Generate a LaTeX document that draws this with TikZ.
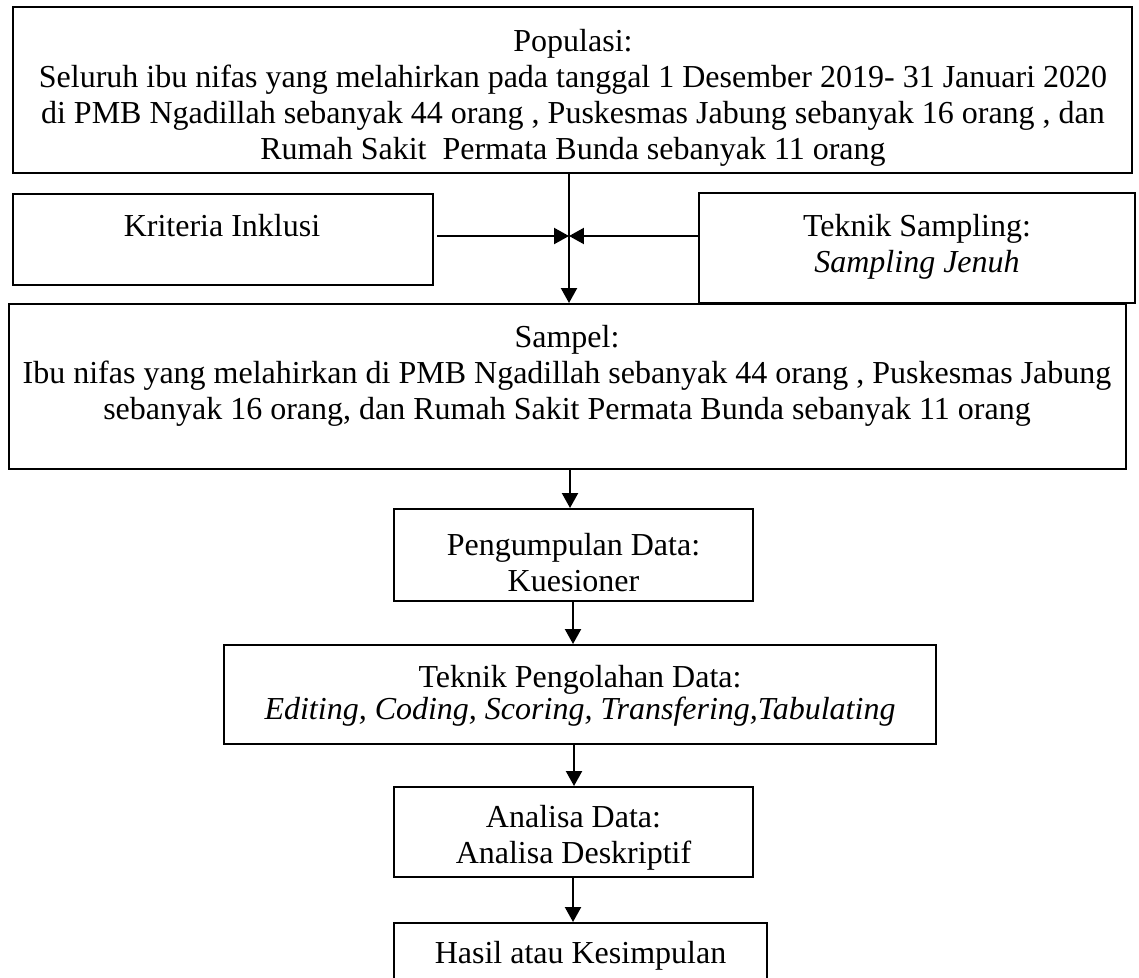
\documentclass[tikz,border=0pt]{standalone}
\usepackage{fontspec}
\setmainfont{Liberation Serif}
\usetikzlibrary{arrows.meta,fit}
\begin{document}
\begin{tikzpicture}[x=0.375pt,y=-0.375pt,
  box/.style={draw,line width=0.75pt,inner sep=0pt},
  txt/.style={align=center,inner sep=0pt,font=\fontsize{12}{13.5}\selectfont},
  arr/.style={line width=0.75pt,-{Triangle[length=5.6pt,width=6pt]}}]
\clip (0,0) rectangle (1139,978);
% boxes
\node[box,fit={(13,7) (1132,173)}] (pop) {};
\node[box,fit={(13,194) (433,285)}] (kri) {};
\node[box,fit={(699,193) (1135,303)}] (tsa) {};
\node[box,fit={(9,304) (1126,469)}] (sam) {};
\node[box,fit={(394,509) (753,601)}] (pen) {};
\node[box,fit={(224,645) (936,744)}] (tpd) {};
\node[box,fit={(394,787) (753,877)}] (ana) {};
\node[box,fit={(394,923) (767,1000)}] (has) {};
% texts
\node[txt] (popt) at (573,98) {Populasi:\\Seluruh ibu nifas yang melahirkan pada tanggal 1 Desember 2019- 31 Januari 2020\\di PMB Ngadillah sebanyak 44 orang , Puskesmas Jabung sebanyak 16 orang , dan\\Rumah Sakit~ Permata Bunda sebanyak 11 orang};
\node[txt,anchor=base] (krit) at (222,236) {Kriteria Inklusi};
\node[txt] (tsat) at (917,246.5) {Teknik Sampling:\\\textit{Sampling Jenuh}};
\node[txt] (samt) at (567,375.5) {Sampel:\\Ibu nifas yang melahirkan di PMB Ngadillah sebanyak 44 orang , Puskesmas Jabung\\sebanyak 16 orang, dan Rumah Sakit Permata Bunda sebanyak 11 orang};
\node[txt] (pent) at (573.5,563) {Pengumpulan Data:\\Kuesioner};
\node[txt] (tpdt) at (580,695.6) {Teknik Pengolahan Data:\\[-1.5pt]\textit{Editing, Coding, Scoring, Transfering,Tabulating}};
\node[txt] (anat) at (573.5,837.6) {Analisa Data:\\Analisa Deskriptif};
\node[txt,anchor=base] (hast) at (580.5,963) {Hasil atau Kesimpulan};
% connectors
\coordinate (meet) at (569,236);
\draw[arr] (569,0 |- pop.south) -- (569,0 |- sam.north);
\draw[arr] (kri.east |- meet) ++(3,0) -- (meet);
\draw[arr] (tsa.west |- meet) -- (meet);
\draw[arr] (570,0 |- sam.south) -- (570,0 |- pen.north);
\draw[arr] (573,0 |- pen.south) -- (573,0 |- tpd.north);
\draw[arr] (574,0 |- tpd.south) -- (574,0 |- ana.north);
\draw[arr] (573,0 |- ana.south) -- (573,0 |- has.north);
\end{tikzpicture}
\end{document}
